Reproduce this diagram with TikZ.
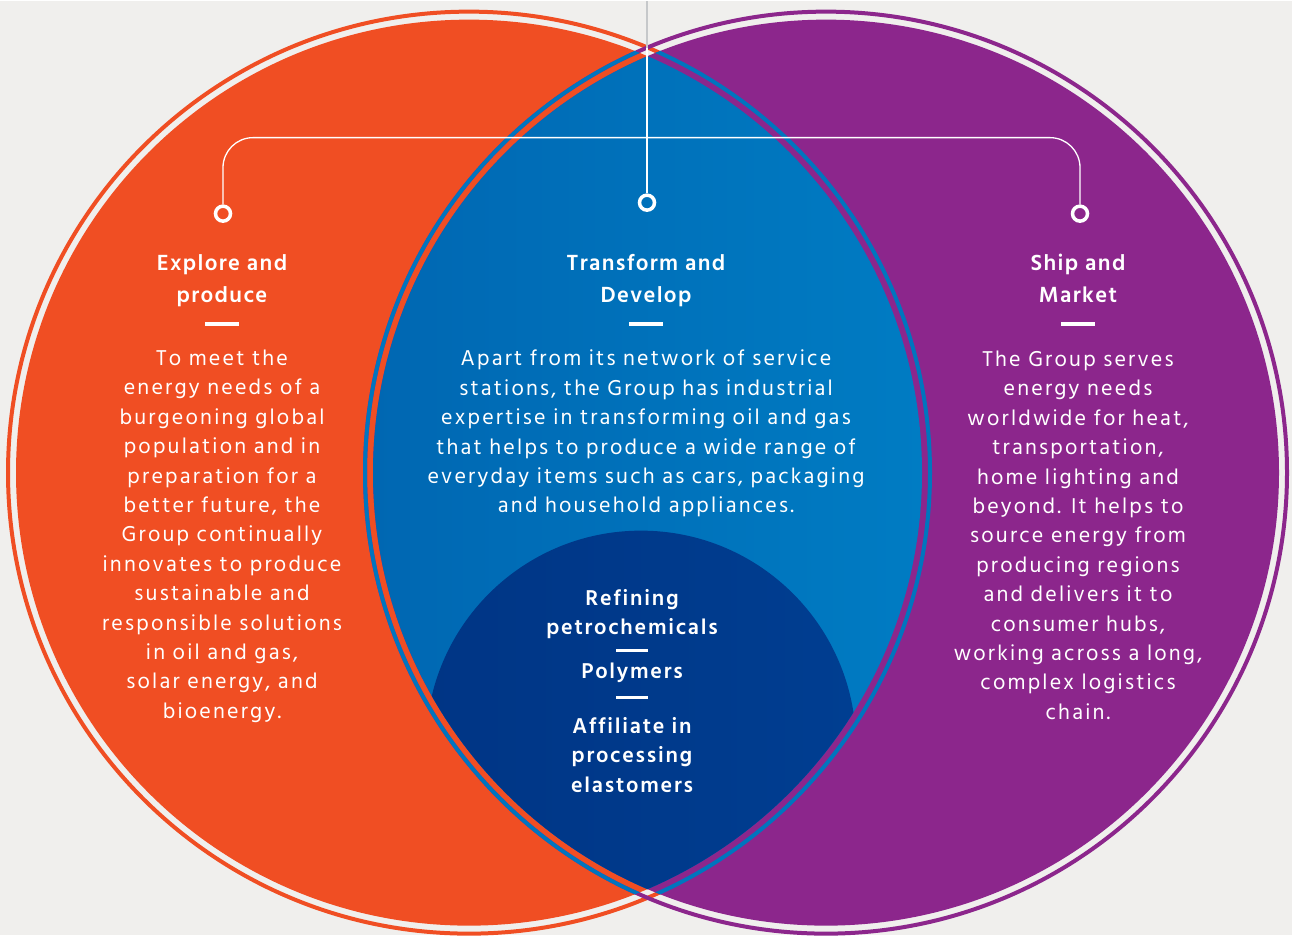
\documentclass[tikz,border=0pt]{standalone}
\usepackage{fontspec}
\setmainfont{Hind Madurai}
\newfontfamily\bodyfont[LetterSpace=10]{Hind Madurai}
\newfontfamily\headfont[LetterSpace=6]{Hind Madurai}
\newfontfamily\subfont[LetterSpace=8]{Hind Madurai}
\definecolor{bgcol}{HTML}{F0EFED}
\definecolor{orangecol}{HTML}{F04E23}
\definecolor{purplecol}{HTML}{8C268C}
\definecolor{bluecol}{HTML}{0075BE}
\definecolor{lensA}{HTML}{0067B2}
\definecolor{lensB}{HTML}{007CC3}
\definecolor{navyA}{HTML}{003585}
\definecolor{navyB}{HTML}{003E91}
\definecolor{linegray}{HTML}{C6C8CA}

\begin{document}
\begin{tikzpicture}[x=1pt,y=1pt,
    marker/.style={circle,draw=white,line width=3.5pt,minimum size=15pt,inner sep=0pt},
    link/.style={draw=white,line width=1.3pt},
    heading/.style={text=white,font=\headfont\bfseries\fontsize{22.5}{32}\selectfont,align=center},
    subhead/.style={text=white,font=\subfont\bfseries\fontsize{22}{29.5}\selectfont,align=center},
    body/.style={text=white,font=\bodyfont\fontsize{22}{29.4}\selectfont,align=center},
    bar/.style={fill=white,minimum width=34pt,minimum height=4pt,inner sep=0pt},
    thinbar/.style={fill=white,minimum width=32pt,minimum height=2.5pt,inner sep=0pt}]
  % background and the two circles
  \fill[bgcol] (0,0) rectangle (1292,934);
  \fill[orangecol] (469,462) circle (453);
  \draw[orangecol,line width=4pt] (469,462) circle (461);
  \fill[purplecol] (826,462) circle (453);
  \draw[purplecol,line width=4pt] (826,462) circle (461);
  % overlap
  \begin{scope}
    \clip (469,462) circle (453);
    \clip (826,462) circle (453);
    \shade[left color=lensA,right color=lensB] (370,0) rectangle (925,934);
    \shade[left color=navyA,right color=navyB] (641,189) circle (215);
  \end{scope}
  \begin{scope}
    \clip (826,462) circle (453);
    \draw[bluecol,line width=4pt] (469,462) circle (461);
  \end{scope}
  \begin{scope}
    \clip (469,462) circle (453);
    \draw[bluecol,line width=4pt] (826,462) circle (461);
  \end{scope}

  % connectors
  \coordinate (top) at (647,934);
  \coordinate (lensTop) at (647,887);
  \coordinate (hub) at (647,797);
  \node[marker] (mL) at (223,721) {};
  \node[marker] (mC) at (647,732) {};
  \node[marker] (mR) at (1080,721) {};
  \draw[link,rounded corners=30pt] (mL) |- (hub) -| (mR);
  \draw[link] (mC) -- (lensTop);
  \draw[link,draw=linegray] (lensTop) -- (top);

  % left
  \node[heading] (tL) at (222,654) {Explore and\\produce};
  \node[bar] (bL) at (222,611) {};
  \node[body] (xL) at (222,398.5) {To meet the\\energy needs of a\\burgeoning global\\population and in\\preparation for a\\better future, the\\Group continually\\innovates to produce\\sustainable and\\responsible solutions\\in oil and gas,\\solar energy, and\\bioenergy.};
  % centre
  \node[heading] (tC) at (646,654) {Transform and\\Develop};
  \node[bar] (bC) at (646,611) {};
  \node[body] (xC) at (646,501) {Apart from its network of service\\stations, the Group has industrial\\expertise in transforming oil and gas\\that helps to produce a wide range of\\everyday items such as cars, packaging\\and household appliances.};
  % right
  \node[heading] (tR) at (1078,656) {Ship and\\Market};
  \node[bar] (bR) at (1078,611) {};
  \node[body] (xR) at (1078,399.5) {The Group serves\\energy needs\\worldwide for heat,\\transportation,\\home lighting and\\beyond. It helps to\\source energy from\\producing regions\\and delivers it to\\consumer hubs,\\working across a long,\\complex logistics\\chain.};
  % inner circle
  \node[subhead] (r1) at (632,320.5) {Refining\\petrochemicals};
  \node[thinbar] (d1) at (632,284) {};
  \node[subhead] (r2) at (632,262) {Polymers};
  \node[thinbar] (d2) at (632,237) {};
  \node[subhead] (r3) at (632,180) {Affiliate in\\processing\\elastomers};
\end{tikzpicture}
\end{document}
